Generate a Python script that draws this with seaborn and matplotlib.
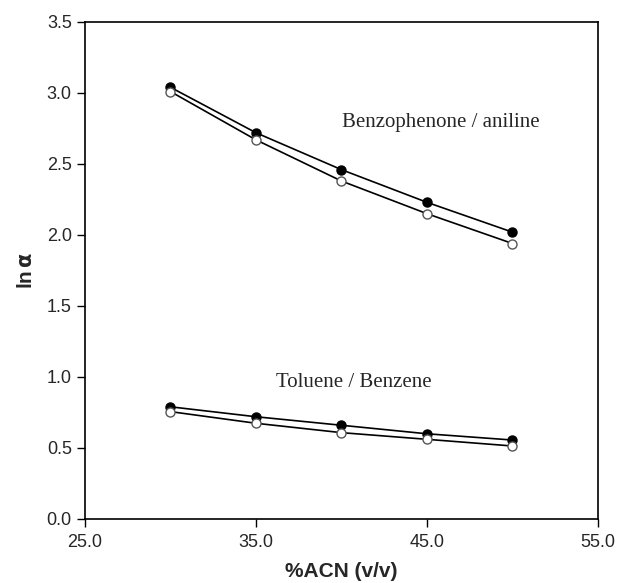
import numpy as np
import pandas as pd
import seaborn as sns
import matplotlib.pyplot as plt

# =====================
# data
# =====================
acn = [30.0, 35.0, 40.0, 45.0, 50.0]
benzo_filled = [3.04, 2.72, 2.46, 2.23, 2.02]
benzo_open = [3.01, 2.67, 2.38, 2.15, 1.94]
tol_filled = [0.79, 0.72, 0.66, 0.60, 0.556]
tol_open = [0.756, 0.674, 0.608, 0.561, 0.514]
x_ticks = [25.0, 35.0, 45.0, 55.0]
y_ticks = [0.0, 0.5, 1.0, 1.5, 2.0, 2.5, 3.0, 3.5]

series = {
    'benzo_filled': benzo_filled,
    'benzo_open': benzo_open,
    'tol_filled': tol_filled,
    'tol_open': tol_open,
}
df = pd.concat([pd.DataFrame({'acn': acn, 'ln_alpha': v, 'series': k}) for k, v in series.items()])

sns.set_style('ticks')
plt.rcParams['font.family'] = ['Liberation Sans', 'DejaVu Sans']

fig = plt.figure(figsize=(6.19, 5.83), dpi=100)
ax = fig.add_axes([0.1373, 0.1098, 0.8287, 0.8525])

for name, grp in df.groupby('series', sort=False):
    filled = name.endswith('filled')
    sns.lineplot(x='acn', y='ln_alpha', data=grp, ax=ax, color='black', lw=1.2,
                 marker='o', markersize=6.5,
                 markerfacecolor='black' if filled else 'white',
                 markeredgecolor='black' if filled else '#555555',
                 markeredgewidth=1.0, legend=False)

ax.text(45.8, 2.79, 'Benzophenone / aniline', family='Liberation Serif', fontsize=15,
        ha='center', va='center')
ax.text(40.7, 0.96, 'Toluene / Benzene', family='Liberation Serif', fontsize=15,
        ha='center', va='center')

ax.set_xlim(25, 55)
ax.set_ylim(0, 3.5)
ax.set_xticks(x_ticks)
ax.set_xticklabels(['%.1f' % t for t in x_ticks])
ax.set_yticks(y_ticks)
ax.set_yticklabels(['%.1f' % t for t in y_ticks])
ax.tick_params(axis='both', labelsize=13, length=6, width=1, direction='out', color='black')
ax.tick_params(axis='x', pad=5)
for sp in ax.spines.values():
    sp.set_linewidth(1.2)
    sp.set_color('black')

ax.set_xlabel('%ACN (v/v)', fontsize=15, fontweight='bold', labelpad=8)
ax.set_ylabel(r'ln$\,\mathbf{\alpha}$', fontsize=15, fontweight='bold', labelpad=8)

fig.savefig('out.png', dpi=100)
plt.close()
